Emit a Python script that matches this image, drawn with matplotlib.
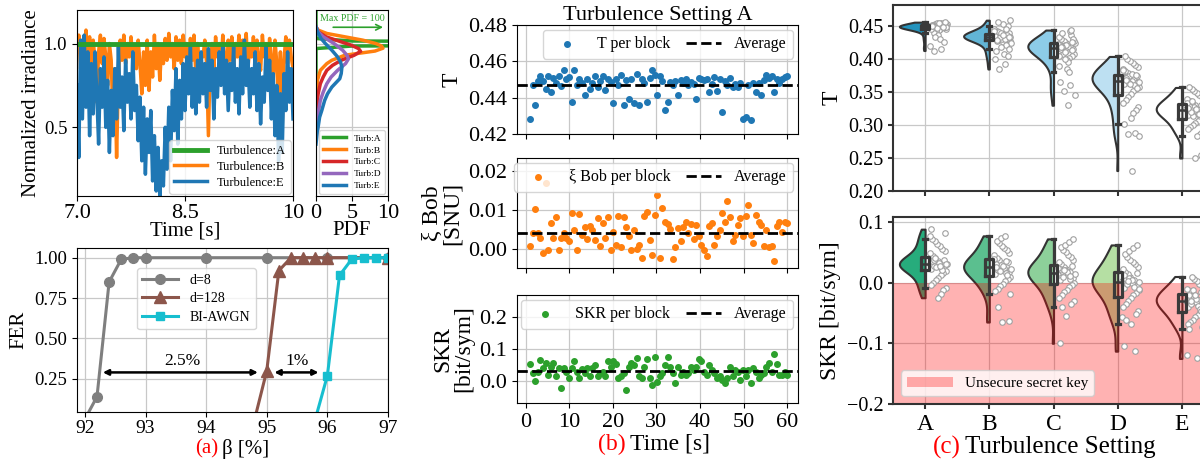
import numpy as np
import matplotlib
matplotlib.use('Agg')
import matplotlib.pyplot as plt
from matplotlib.patches import Patch

plt.rcParams['font.family'] = ['Liberation Serif', 'DejaVu Serif']
plt.rcParams['axes.unicode_minus'] = True

# ---------------- (a) irradiance time series ----------------
irr_B = [0.95, 1.05, 0.85, 1.02, 0.92, 1.08, 0.88, 1.04, 0.80, 1.02,
         0.90, 0.65, 0.95, 1.05, 0.88, 1.03, 0.92, 0.75, 1.00, 0.90,
         0.55, 0.85, 0.32, 0.80, 1.02, 0.90, 1.05, 0.88, 1.00, 0.92,
         1.04, 0.90, 0.98, 0.85, 1.02, 0.88, 0.70, 0.95, 0.75, 1.02,
         0.72, 0.95, 0.80, 1.05, 0.85, 1.00, 0.78, 0.98, 0.88, 1.03,
         0.90, 1.06, 0.92, 1.00, 0.85, 1.04, 0.90, 1.02, 0.88, 1.05,
         0.92, 1.00, 0.86, 1.03, 0.90, 1.05, 0.82, 1.00, 0.88, 0.92,
         0.92, 1.02, 0.88, 0.45, 0.90, 1.00, 0.85, 1.04, 0.92, 1.00,
         0.88, 1.05, 0.92, 0.80, 1.02, 0.90, 1.04, 0.86, 1.00, 0.92,
         1.05, 0.88, 1.02, 0.90, 1.06, 0.85, 1.00, 0.92, 1.04, 0.88,
         1.02, 0.90, 0.84, 1.05, 0.92, 1.00, 0.86, 1.03, 0.90, 0.78,
         1.02, 0.88, 0.62, 0.95, 0.50, 0.90, 1.04, 0.88, 1.02, 0.92,
         0.85]
irr_E = [0.75, 0.32, 1.02, 0.55, 1.05, 0.62, 0.95, 0.45, 0.88, 0.58,
         0.95, 0.70, 0.40, 0.85, 0.62, 0.92, 0.50, 0.78, 0.35, 0.72,
         0.45, 0.85, 0.55, 0.98, 0.62, 0.80, 0.48, 0.90, 0.65, 0.82,
         0.55, 0.95, 0.60, 0.75, 0.42, 0.68, 0.30, 0.62, 0.22, 0.55,
         0.35, 0.60, 0.18, 0.45, 0.12, 0.38, 0.09, 0.30, 0.15, 0.50,
         0.25, 0.62, 0.30, 0.72, 0.48, 0.85, 0.40, 0.78, 0.55, 0.88,
         0.60, 0.92, 0.70, 0.98, 0.62, 0.85, 0.58, 0.90, 0.65, 0.95,
         0.70, 0.88, 0.62, 0.97, 0.72, 0.90, 0.55, 0.85, 0.68, 0.95,
         0.75, 1.00, 0.70, 0.90, 0.60, 0.88, 0.72, 0.98, 0.65, 0.85,
         0.58, 0.92, 0.70, 1.02, 0.75, 0.90, 0.62, 0.85, 0.70, 0.95,
         0.60, 0.88, 0.52, 0.80, 0.65, 0.98, 0.72, 0.90, 0.55, 0.82,
         0.45, 0.75, 0.30, 0.70, 0.35, 0.82, 0.60, 0.95, 0.65, 0.85,
         0.55]
irr_A_t = [7.0, 10.0]
irr_A = [1.0, 1.0]

# PDF of the irradiance (x = pdf, y = irradiance)
pdf_A_y = [0.45, 0.97, 0.985, 0.995, 1.0, 1.005, 1.015, 1.03, 1.2]
pdf_A = [0.0, 0.0, 5.0, 60.0, 100.0, 60.0, 5.0, 0.0, 0.0]
pdf_B_y = [1.10, 1.08, 1.06, 1.04, 1.02, 1.00, 0.985, 0.972, 0.955, 0.93, 0.90, 0.88, 0.84, 0.78, 0.72, 0.66]
pdf_B = [0.0, 0.3, 1.5, 4.0, 6.5, 8.3, 9.1, 9.3, 8.2, 4.0, 2.2, 1.5, 0.6, 0.2, 0.1, 0.05]
pdf_C_y = [1.10, 1.07, 1.04, 1.017, 0.99, 0.97, 0.953, 0.93, 0.90, 0.87, 0.84, 0.80, 0.76, 0.70, 0.66, 0.56]
pdf_C = [0.0, 0.3, 1.4, 3.0, 4.9, 5.9, 6.2, 5.3, 3.5, 2.3, 1.5, 1.0, 0.6, 0.3, 0.2, 0.05]
pdf_D_y = [1.10, 1.07, 1.04, 1.00, 0.96, 0.93, 0.908, 0.88, 0.84, 0.80, 0.76, 0.71, 0.66, 0.56, 0.46]
pdf_D = [0.0, 0.3, 1.0, 2.5, 3.7, 4.3, 4.5, 4.1, 3.0, 2.1, 1.5, 1.0, 0.6, 0.2, 0.05]
pdf_E_y = [1.10, 1.07, 1.03, 1.00, 0.96, 0.92, 0.89, 0.86, 0.82, 0.79, 0.74, 0.70, 0.66, 0.60, 0.56, 0.46, 0.40]
pdf_E = [0.0, 0.2, 0.7, 1.3, 2.2, 3.0, 3.4, 3.6, 3.5, 3.3, 2.2, 1.6, 1.2, 0.8, 0.5, 0.15, 0.0]

# ---------------- (a) FER vs beta ----------------
beta_d8 = [92.0, 92.2, 92.4, 92.6, 92.8, 93.0, 94.0, 95.0, 96.0, 97.0]
fer_d8 = [0.0, 0.14, 0.85, 0.99, 1.0, 1.0, 1.0, 1.0, 1.0, 1.0]
beta_d128 = [94.8, 95.0, 95.2, 95.4, 95.6, 95.8, 96.0, 97.0]
fer_d128 = [0.0, 0.30, 0.92, 1.0, 1.0, 1.0, 1.0, 1.0]
beta_awgn = [95.8, 96.0, 96.2, 96.4, 96.6, 96.8, 97.0]
fer_awgn = [0.0, 0.27, 0.89, 0.99, 1.0, 1.0, 1.0]

# ---------------- (b) per-block values, turbulence A ----------------
T_block = [0.4285, 0.4467, 0.4357, 0.4494, 0.4522, 0.4494, 0.4450, 0.4520, 0.4430, 0.4510,
           0.4478, 0.4520, 0.4462, 0.4550, 0.4500, 0.4515, 0.4375, 0.4550, 0.4470, 0.4500,
           0.4480, 0.4412, 0.4500, 0.4445, 0.4478, 0.4520, 0.4460, 0.4490, 0.4520, 0.4440,
           0.4500, 0.4485, 0.4371, 0.4505, 0.4470, 0.4525, 0.4357, 0.4495, 0.4395, 0.4500,
           0.4368, 0.4530, 0.4362, 0.4500, 0.4478, 0.4377, 0.4510, 0.4552, 0.4525, 0.4413,
           0.4520, 0.4490, 0.4331, 0.4377, 0.4485, 0.4470, 0.4490, 0.4417, 0.4495, 0.4480,
           0.4500, 0.4470, 0.4485, 0.4475, 0.4390, 0.4510, 0.4500, 0.4495, 0.4500, 0.4430,
           0.4475, 0.4512, 0.4436, 0.4500, 0.4322, 0.4490, 0.4470, 0.4510, 0.4460, 0.4475,
           0.4460, 0.4480, 0.4285, 0.4292, 0.4470, 0.4279, 0.4480, 0.4430, 0.4480, 0.4417,
           0.4495, 0.4525, 0.4510, 0.4520, 0.4430, 0.4505, 0.4480, 0.4500, 0.4515, 0.4520]
xi_block = [0.0008, 0.0042, 0.0101, 0.0042, 0.0027, -0.0011, 0.0170, -0.0003, 0.0066, 0.0027,
            0.0081, -0.0003, 0.0029, 0.0040, 0.0027, 0.0021, 0.0091, 0.0049, -0.0003, 0.0089,
            0.0036, 0.0056, 0.0025, 0.0059, 0.0049, 0.0023, 0.0080, 0.0008, 0.0066, 0.0029,
            0.0083, -0.0003, 0.0044, 0.0010, 0.0085, 0.0004, 0.0083, 0.0057, 0.0032, -0.0003,
            0.0049, -0.0001, 0.0010, -0.0024, 0.0085, 0.0094, 0.0023, -0.0015, 0.0088, 0.0139,
            -0.0024, 0.0105, 0.0070, 0.0063, 0.0050, -0.0026, 0.0006, 0.0054, 0.0019, 0.0056,
            0.0069, 0.0042, 0.0063, 0.0025, 0.0062, 0.0032, 0.0010, -0.0003, -0.0018, 0.0059,
            0.0067, 0.0010, 0.0032, 0.0049, 0.0093, 0.0070, 0.0123, 0.0083, 0.0019, 0.0036,
            0.0062, 0.0080, 0.0033, 0.0085, 0.0112, 0.0036, 0.0015, 0.0087, 0.0068, 0.0062,
            0.0008, 0.0049, 0.0004, 0.0008, -0.0032, 0.0059, 0.0070, 0.0044, 0.0070, 0.0066]
skr_block = [0.052, 0.026, 0.001, 0.029, 0.066, 0.042, 0.057, 0.019, 0.045, 0.057,
             0.014, 0.040, -0.023, 0.040, 0.029, 0.008, 0.042, 0.061, 0.029, 0.008,
             0.037, 0.024, 0.040, 0.014, 0.040, 0.050, 0.014, 0.024, 0.029, 0.014,
             0.061, 0.045, 0.061, 0.052, 0.008, 0.014, 0.024, -0.028, 0.045, 0.055,
             0.050, 0.071, 0.014, 0.008, 0.043, 0.069, 0.008, -0.013, 0.076, -0.002,
             0.016, 0.024, 0.050, 0.076, 0.045, 0.026, -0.005, 0.043, 0.019, 0.029,
             0.019, 0.024, 0.045, 0.035, 0.045, 0.068, 0.061, 0.029, 0.019, 0.050,
             0.035, 0.026, 0.008, 0.014, 0.003, -0.007, 0.008, 0.043, 0.014, 0.035,
             0.029, 0.003, 0.035, 0.014, 0.035, -0.005, 0.040, 0.029, 0.008, 0.019,
             0.026, 0.045, 0.055, 0.029, 0.084, 0.053, 0.019, 0.019, 0.029, 0.019]
T_avg = 0.4467
xi_avg = 0.0042
skr_avg = 0.030

# ---------------- (c) distributions per turbulence setting ----------------
settings = ['A', 'B', 'C', 'D', 'E']
T_dist = [
    [0.449, 0.450, 0.451, 0.448, 0.452, 0.447, 0.450, 0.453, 0.446, 0.449, 0.451, 0.448, 0.454, 0.450,
     0.447, 0.452, 0.449, 0.445, 0.451, 0.448, 0.450, 0.453, 0.446, 0.449, 0.452, 0.447, 0.450, 0.455,
     0.448, 0.451, 0.444, 0.449, 0.450, 0.442, 0.447, 0.452, 0.440, 0.449, 0.437, 0.446, 0.451, 0.433,
     0.448, 0.430, 0.450, 0.426, 0.447, 0.420, 0.416, 0.413, 0.456, 0.454, 0.450, 0.448],
    [0.435, 0.433, 0.437, 0.430, 0.438, 0.432, 0.436, 0.440, 0.428, 0.434, 0.442, 0.431, 0.437, 0.445,
     0.429, 0.435, 0.439, 0.426, 0.433, 0.448, 0.436, 0.424, 0.438, 0.432, 0.450, 0.430, 0.435, 0.421,
     0.441, 0.434, 0.453, 0.427, 0.437, 0.418, 0.443, 0.431, 0.456, 0.415, 0.436, 0.412, 0.446, 0.433,
     0.459, 0.408, 0.429, 0.404, 0.439, 0.400, 0.392, 0.385, 0.434, 0.437],
    [0.420, 0.418, 0.423, 0.415, 0.425, 0.412, 0.421, 0.428, 0.408, 0.419, 0.430, 0.405, 0.422, 0.433,
     0.402, 0.417, 0.426, 0.398, 0.420, 0.436, 0.410, 0.424, 0.395, 0.439, 0.414, 0.421, 0.390, 0.442,
     0.407, 0.427, 0.385, 0.416, 0.444, 0.400, 0.423, 0.380, 0.418, 0.431, 0.413, 0.365, 0.360, 0.352,
     0.345, 0.330, 0.419, 0.426, 0.411, 0.404],
    [0.370, 0.368, 0.373, 0.365, 0.376, 0.362, 0.371, 0.379, 0.358, 0.367, 0.382, 0.355, 0.374, 0.385,
     0.351, 0.369, 0.388, 0.347, 0.372, 0.391, 0.343, 0.366, 0.394, 0.338, 0.375, 0.397, 0.333, 0.360,
     0.400, 0.328, 0.378, 0.404, 0.323, 0.364, 0.381, 0.318, 0.371, 0.356, 0.310, 0.302, 0.288, 0.287,
     0.284, 0.231, 0.369, 0.376, 0.362, 0.383],
    [0.325, 0.322, 0.328, 0.318, 0.330, 0.315, 0.326, 0.333, 0.312, 0.321, 0.336, 0.309, 0.327, 0.339,
     0.306, 0.323, 0.342, 0.303, 0.329, 0.345, 0.300, 0.319, 0.348, 0.297, 0.331, 0.351, 0.294, 0.316,
     0.354, 0.290, 0.324, 0.357, 0.287, 0.313, 0.334, 0.284, 0.320, 0.255, 0.250, 0.326, 0.317, 0.337],
]
skr_dist = [
    [0.030, 0.028, 0.034, 0.025, 0.036, 0.022, 0.031, 0.040, 0.019, 0.029, 0.044, 0.016, 0.033, 0.048,
     0.012, 0.027, 0.052, 0.008, 0.035, 0.056, 0.004, 0.030, 0.060, 0.000, 0.038, 0.064, -0.004, 0.024,
     0.068, -0.009, 0.032, 0.072, -0.013, 0.026, 0.077, -0.018, 0.037, 0.082, -0.025, 0.088, 0.021,
     0.041, 0.031, 0.027],
    [0.025, 0.022, 0.030, 0.018, 0.033, 0.014, 0.027, 0.037, 0.010, 0.024, 0.041, 0.006, 0.029, 0.045,
     0.002, 0.020, 0.049, -0.002, 0.031, 0.053, -0.006, 0.023, 0.057, -0.010, 0.034, 0.061, -0.014,
     0.016, 0.065, -0.018, 0.028, 0.069, 0.012, 0.073, 0.039, 0.077, -0.040, -0.063, -0.065, 0.026,
     0.035, 0.019],
    [0.015, 0.012, 0.019, 0.008, 0.022, 0.004, 0.017, 0.026, 0.000, 0.013, 0.030, -0.004, 0.020, 0.034,
     -0.008, 0.010, 0.038, -0.012, 0.023, 0.042, -0.016, 0.014, 0.046, -0.020, 0.027, 0.050, -0.025,
     0.006, 0.054, -0.030, 0.018, 0.058, -0.035, 0.062, 0.024, 0.067, -0.040, 0.072, -0.055, -0.100,
     0.011, 0.021],
    [0.002, -0.001, 0.006, -0.005, 0.010, -0.009, 0.004, 0.014, -0.013, 0.000, 0.018, -0.017, 0.008,
     0.022, -0.021, -0.003, 0.026, -0.026, 0.012, 0.030, -0.031, 0.001, 0.034, -0.036, 0.016, 0.038,
     -0.041, -0.007, 0.042, -0.046, 0.005, 0.047, -0.051, 0.052, -0.056, 0.057, -0.062, 0.062, -0.068,
     -0.105, -0.113, 0.003, -0.011],
    [-0.030, -0.033, -0.026, -0.037, -0.022, -0.041, -0.029, -0.018, -0.045, -0.032, -0.014, -0.049,
     -0.024, -0.010, -0.053, -0.035, -0.006, -0.057, -0.020, -0.002, -0.061, -0.028, 0.002, -0.065,
     -0.016, 0.006, -0.069, -0.039, 0.010, -0.073, -0.027, -0.077, -0.043, -0.012, -0.120, -0.125,
     -0.031, -0.047, -0.021],
]
T_colors = ['#2393bd', '#62b5d6', '#8dcce8', '#bde0f2', '#ffffff']
skr_colors = ['#27ac7c', '#5bbf8f', '#8dd09a', '#b5dfa3', '#ffffff']

fig = plt.figure(figsize=(12, 4.66), dpi=100)


def px_axes(left, top, right, bottom):
    return fig.add_axes([left / 1200, 1 - bottom / 466, (right - left) / 1200, (bottom - top) / 466])


grid_kw = dict(color='#c8c8c8', lw=0.9)

# ---- irradiance ----
ax_irr = px_axes(77, 10, 293, 196)
irr_t = np.linspace(7.0, 10.0, len(irr_E))
lb, = ax_irr.plot(irr_t, irr_B, color='tab:orange', lw=2.5, label='Turbulence:B')
le, = ax_irr.plot(irr_t, irr_E, color='tab:blue', lw=2.5, label='Turbulence:E')
la, = ax_irr.plot(irr_A_t, irr_A, color='tab:green', lw=3.5, label='Turbulence:A')
ax_irr.legend(handles=[la, lb, le], loc='lower right', fontsize=9, handlelength=2.6,
              borderaxespad=0.2, labelspacing=0.3)
ax_irr.set_xlim(7, 10)
ax_irr.set_ylim(0.09, 1.2)
ax_irr.set_xticks([7, 8.5, 10])
ax_irr.set_xticklabels(['7.0', '8.5', '10'], fontsize=16)
ax_irr.set_yticks([0.5, 1.0])
ax_irr.set_yticklabels(['0.5', '1.0'], fontsize=13.5)
ax_irr.tick_params(axis='x', pad=2)
ax_irr.set_xlabel('Time [s]', fontsize=15, labelpad=-1)
ax_irr.set_ylabel('Normalized irradiance', fontsize=15, labelpad=2)
ax_irr.grid(True, **grid_kw)

# ---- pdf ----
ax_pdf = px_axes(316, 10, 388, 196)
pdf_curves = [('A', pdf_A_y, pdf_A, 'tab:green'), ('B', pdf_B_y, pdf_B, 'tab:orange'),
              ('C', pdf_C_y, pdf_C, 'tab:red'), ('D', pdf_D_y, pdf_D, 'tab:purple'),
              ('E', pdf_E_y, pdf_E, 'tab:blue')]
for name, yv, pv, col in pdf_curves:
    ax_pdf.plot(pv, yv, color=col, lw=2.5, label='Turb:' + name)
ax_pdf.legend(loc='lower center', fontsize=6.8, handlelength=2.4, borderaxespad=0.2, labelspacing=0.35)
ax_pdf.annotate('', xy=(9.7, 1.097), xytext=(2.0, 1.097),
                arrowprops=dict(arrowstyle='->', color='tab:green', lw=1.2))
ax_pdf.text(5.1, 1.12, 'Max PDF = 100', color='tab:green', fontsize=7.2, ha='center', va='bottom')
ax_pdf.set_xlim(0, 10)
ax_pdf.set_ylim(0.09, 1.2)
ax_pdf.set_xticks([0, 5, 10])
ax_pdf.set_xticklabels(['0', '5', '10'], fontsize=16)
ax_pdf.set_yticks([0.5, 1.0])
ax_pdf.tick_params(axis='y', labelleft=False, length=0)
ax_pdf.tick_params(axis='x', pad=2)
ax_pdf.set_xlabel('PDF', fontsize=15, labelpad=-1)
ax_pdf.grid(True, **grid_kw)

# ---- FER ----
ax_fer = px_axes(77, 248, 388, 412)
ax_fer.plot(beta_d8, fer_d8, color='tab:gray', marker='o', ms=7, lw=2.2, label='d=8')
ax_fer.plot(beta_d128, fer_d128, color='tab:brown', marker='^', ms=8, lw=2.2, label='d=128')
ax_fer.plot(beta_awgn, fer_awgn, color='tab:cyan', marker='s', ms=6, lw=2.2, label='BI-AWGN')
ax_fer.annotate('', xy=(92.25, 0.29), xytext=(94.9, 0.29),
                arrowprops=dict(arrowstyle='<|-|>', color='k', lw=1.8, mutation_scale=8))
ax_fer.text(93.6, 0.31, '2.5%', ha='center', va='bottom', fontsize=12.5)
ax_fer.annotate('', xy=(95.08, 0.29), xytext=(95.9, 0.29),
                arrowprops=dict(arrowstyle='<|-|>', color='k', lw=1.8, mutation_scale=8))
ax_fer.text(95.5, 0.31, '1%', ha='center', va='bottom', fontsize=12.5)
ax_fer.legend(loc='upper left', bbox_to_anchor=(0.17, 0.92), fontsize=10, handlelength=2.6,
              labelspacing=0.4)
ax_fer.set_xlim(91.87, 97)
ax_fer.set_ylim(0.045, 1.06)
ax_fer.set_xticks([92, 93, 94, 95, 96, 97])
ax_fer.set_xticklabels(['92', '93', '94', '95', '96', '97'], fontsize=14)
ax_fer.tick_params(axis='x', pad=2)
ax_fer.set_yticks([0.25, 0.5, 0.75, 1.0])
ax_fer.set_yticklabels(['0.25', '0.50', '0.75', '1.00'], fontsize=13.5)
ax_fer.set_ylabel('FER', fontsize=15)
ax_fer.grid(True, **grid_kw)
fig.text(218 / 1200, 1 - 449 / 466, '(a)', color='red', fontsize=15, ha='right', va='center')
fig.text(222 / 1200, 1 - 449 / 466, 'β [%]', color='black', fontsize=15, ha='left', va='center')

# ---- (b) per block ----
block_time = np.linspace(1.0, 60.0, len(T_block))
b_specs = [
    (25, 134, T_block, T_avg, 'tab:blue', 'T per block', 'T', (0.42, 0.48), [0.42, 0.44, 0.46, 0.48],
     ['0.42', '0.44', '0.46', '0.48']),
    (158, 268, xi_block, xi_avg, 'tab:orange', 'ξ Bob per block', 'ξ Bob\n[SNU]', (-0.0049, 0.0233),
     [0.0, 0.01, 0.02], ['0.00', '0.01', '0.02']),
    (295, 403, skr_block, skr_avg, 'tab:green', 'SKR per block', 'SKR\n[bit/sym]', (-0.069, 0.269),
     [0.0, 0.1, 0.2], ['0.0', '0.1', '0.2']),
]
b_axes = []
for top, bottom, vals, avg, col, lab, ylab, ylim, yt, ytl in b_specs:
    ax = px_axes(517, top, 798, bottom)
    ax.scatter(block_time, vals, s=16, color=col, label=lab, zorder=2)
    ax.axhline(avg, color='k', ls='--', lw=2, label='Average', zorder=3)
    ax.set_xlim(-2, 62.5)
    ax.set_ylim(*ylim)
    ax.set_yticks(yt)
    ax.set_yticklabels(ytl, fontsize=16)
    ax.set_xticks([0, 10, 20, 30, 40, 50, 60])
    ax.set_ylabel(ylab, fontsize=17, linespacing=0.95)
    ax.grid(True, **grid_kw)
    ax.legend(loc='upper right', ncol=2, fontsize=11.5, handlelength=2.2, columnspacing=1.0,
              borderaxespad=0.3)
    b_axes.append(ax)
for ax in b_axes[:2]:
    ax.tick_params(axis='x', labelbottom=False)
b_axes[2].set_xticklabels(['0', '10', '20', '30', '40', '50', '60'], fontsize=16)
b_axes[0].set_title('Turbulence Setting A', fontsize=16, pad=3)
fig.text(626 / 1200, 1 - 444 / 466, '(b)', color='red', fontsize=17, ha='right', va='center')
fig.text(630 / 1200, 1 - 444 / 466, 'Time [s]', color='black', fontsize=17, ha='left', va='center')

# ---- (c) raincloud ----
pos = np.arange(len(settings))


def raincloud(ax, data, colors):
    parts = ax.violinplot(data, positions=pos, widths=0.8, showextrema=False, points=200)
    for body, c, col in zip(parts['bodies'], pos, colors):
        verts = body.get_paths()[0].vertices
        verts[:, 0] = np.minimum(verts[:, 0], c)
        body.set_facecolor(col)
        body.set_edgecolor('#333333')
        body.set_linewidth(1.5)
        body.set_alpha(1)
        body.set_zorder(1)
    ax.boxplot(data, positions=pos, widths=0.12, showfliers=False, manage_ticks=False,
               boxprops=dict(color='#3a3a3a', lw=2.3), whiskerprops=dict(color='#3a3a3a', lw=2.3),
               capprops=dict(color='#3a3a3a', lw=2.3), medianprops=dict(color='#3a3a3a', lw=1.8),
               capwidths=0.06, zorder=4)
    for c, vals in zip(pos, data):
        idx = np.arange(len(vals))
        offs = 0.07 + 0.27 * ((idx * 0.618) % 1.0)
        ax.scatter(c + offs, vals, s=16, facecolor='white', edgecolor='#a0a0a0', lw=0.8, zorder=3)


ax_c1 = px_axes(893, 5, 1214, 191)
raincloud(ax_c1, T_dist, T_colors)
ax_c1.set_ylim(0.20, 0.482)
ax_c1.set_yticks([0.20, 0.25, 0.30, 0.35, 0.40, 0.45])
ax_c1.set_yticklabels(['0.20', '0.25', '0.30', '0.35', '0.40', '0.45'], fontsize=14.5)
ax_c1.set_ylabel('T', fontsize=17)
ax_c1.tick_params(axis='x', labelbottom=False)

ax_c2 = px_axes(893, 217, 1214, 404)
raincloud(ax_c2, skr_dist, skr_colors)
ax_c2.axhspan(-0.2, 0.0, color='red', alpha=0.3, lw=0, zorder=2)
ax_c2.set_ylim(-0.2, 0.108)
ax_c2.set_yticks([-0.2, -0.1, 0.0, 0.1])
ax_c2.set_yticklabels(['−0.2', '−0.1', '0.0', '0.1'], fontsize=14.5)
ax_c2.set_ylabel('SKR [bit/sym]', fontsize=17)
ax_c2.set_xticklabels(settings, fontsize=17)
ax_c2.legend(handles=[Patch(color='red', alpha=0.3, lw=0)], labels=['Unsecure secret key'],
             loc='lower left', fontsize=11, borderaxespad=0.5, handlelength=3.0)

for ax in (ax_c1, ax_c2):
    ax.set_xlim(-0.5, 4.5)
    ax.set_xticks(pos)
    ax.grid(True, **grid_kw)
    ax.set_axisbelow(True)
    for s in ax.spines.values():
        s.set_color('#333333')
        s.set_linewidth(1.5)
    ax.tick_params(color='#333333', width=1.5)
fig.text(961 / 1200, 1 - 447 / 466, '(c)', color='red', fontsize=18, ha='right', va='center')
fig.text(965 / 1200, 1 - 447 / 466, 'Turbulence Setting', color='black', fontsize=18,
         ha='left', va='center')

fig.savefig('out.png', dpi=100)
